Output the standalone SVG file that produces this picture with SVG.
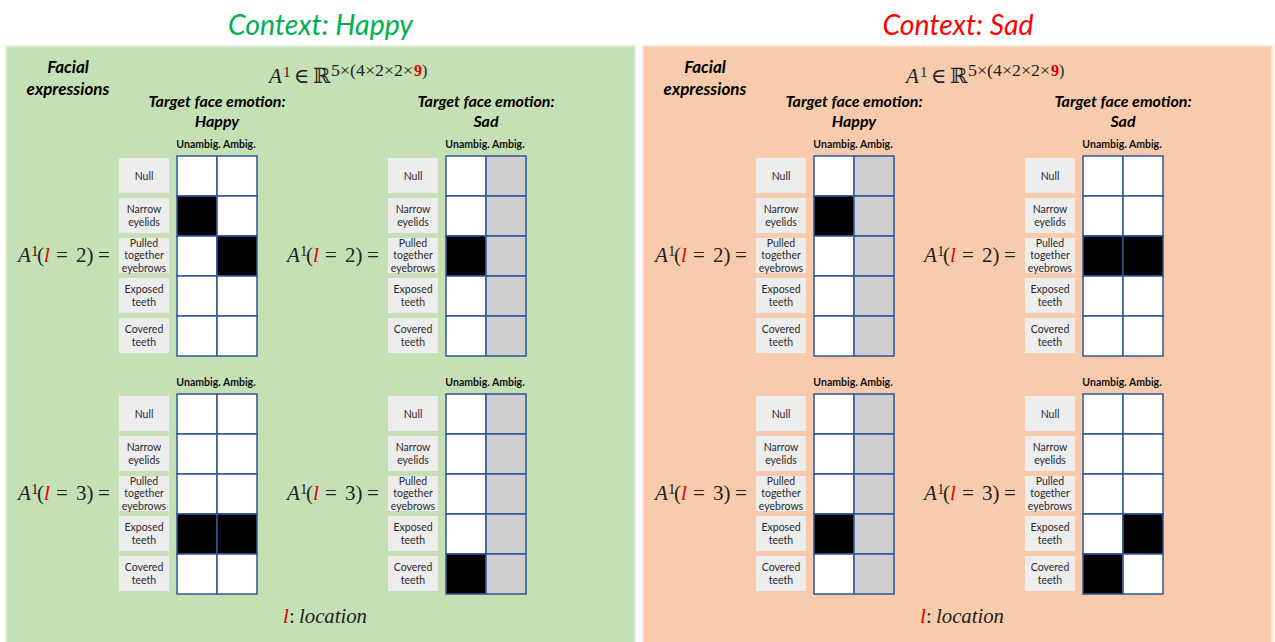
<svg xmlns="http://www.w3.org/2000/svg" xmlns:xlink="http://www.w3.org/1999/xlink" width="1275" height="642" viewBox="0 0 1275 642">
<defs>
<style>
.pg{fill:#C5E0B4;stroke:#E2EFDA;stroke-width:1.5}
.pp{fill:#F8CBAD;stroke:#FCE4D6;stroke-width:1.5}
.title{font-family:Lato,"Liberation Sans",sans-serif;font-style:italic;font-size:29px;text-anchor:middle}
.hd{font-family:Lato,"Liberation Sans",sans-serif;font-style:italic;font-weight:bold;font-size:16px;text-anchor:middle;fill:#000}
.fe{font-size:17px}
.col{font-family:Lato,"Liberation Sans",sans-serif;font-weight:bold;font-size:10.5px;text-anchor:middle;fill:#111}
.lb{fill:#EDEDED}
.lt{font-family:Lato,"Liberation Sans",sans-serif;font-size:10.5px;text-anchor:middle;fill:#2b2b2b}
.c rect{stroke:#2F5597;stroke-width:1.5}
.w{fill:#fff}.g{fill:#D0CECE}.k{fill:#000}
.m{font-family:"Liberation Serif","DejaVu Serif",serif;font-size:21px;fill:#222}
.s{font-size:16px}
.i{font-style:italic}
.red{fill:#E00000}
</style>
<g id="labels">
<rect class="lb" x="-58" y="2" width="50" height="35"/>
<rect class="lb" x="-58" y="42" width="50" height="35"/>
<rect class="lb" x="-58" y="82" width="50" height="35"/>
<rect class="lb" x="-58" y="122" width="50" height="35"/>
<rect class="lb" x="-58" y="162" width="50" height="35"/>
<text class="lt" x="-33" y="23.5">Null</text>
<text class="lt" x="-33" y="56.5">Narrow</text>
<text class="lt" x="-33" y="69.5">eyelids</text>
<text class="lt" x="-33" y="90.5">Pulled</text>
<text class="lt" x="-33" y="103">together</text>
<text class="lt" x="-33" y="115.5">eyebrows</text>
<text class="lt" x="-33" y="136.5">Exposed</text>
<text class="lt" x="-33" y="149.5">teeth</text>
<text class="lt" x="-33" y="176.5">Covered</text>
<text class="lt" x="-33" y="189.5">teeth</text>
<text class="col" x="39" y="-8">Unambig. Ambig.</text>
</g>
</defs>

<!-- Context: Happy -->
<g id="panel-happy">
<text class="title" x="320.5" y="35" fill="#00B050" textLength="185" lengthAdjust="spacingAndGlyphs">Context: Happy</text>
<rect class="pg" x="6" y="46" width="629" height="600"/>
<text class="hd fe" x="68" y="73">Facial</text>
<text class="hd fe" x="68" y="95">expressions</text>
<text class="m"><tspan class="i" x="269" y="83">A</tspan><tspan x="283" y="77" font-size="15">1</tspan><tspan x="294" y="83">∈</tspan><tspan x="313" y="83">ℝ</tspan></text>
<text class="m s" x="331" y="76" textLength="82" lengthAdjust="spacingAndGlyphs">5×(4×2×2×</text>
<text class="m s red" x="414" y="76" font-weight="bold">9</text>
<text class="m s" x="422" y="76">)</text>
<text class="hd" x="217" y="107">Target face emotion:</text>
<text class="hd" x="217" y="127">Happy</text>
<text class="hd" x="486" y="107">Target face emotion:</text>
<text class="hd" x="486" y="127">Sad</text>

<g id="happy-happy-l2" transform="translate(177,156)">
<text class="m"><tspan class="i" x="-159" y="106">A</tspan><tspan x="-146" y="100" font-size="15">1</tspan><tspan x="-140" y="106">(</tspan><tspan class="i red" x="-133" y="106">l</tspan><tspan x="-121" y="106">=</tspan><tspan x="-101" y="106">2)</tspan><tspan x="-79" y="106">=</tspan></text>
<use xlink:href="#labels"/>
<g class="c">
<rect class="w" x="0" y="0" width="40" height="40"/><rect class="w" x="40" y="0" width="40" height="40"/>
<rect class="k" x="0" y="40" width="40" height="40"/><rect class="w" x="40" y="40" width="40" height="40"/>
<rect class="w" x="0" y="80" width="40" height="40"/><rect class="k" x="40" y="80" width="40" height="40"/>
<rect class="w" x="0" y="120" width="40" height="40"/><rect class="w" x="40" y="120" width="40" height="40"/>
<rect class="w" x="0" y="160" width="40" height="40"/><rect class="w" x="40" y="160" width="40" height="40"/>
</g>
</g>

<g id="happy-sad-l2" transform="translate(446,156)">
<text class="m"><tspan class="i" x="-159" y="106">A</tspan><tspan x="-146" y="100" font-size="15">1</tspan><tspan x="-140" y="106">(</tspan><tspan class="i red" x="-133" y="106">l</tspan><tspan x="-121" y="106">=</tspan><tspan x="-101" y="106">2)</tspan><tspan x="-79" y="106">=</tspan></text>
<use xlink:href="#labels"/>
<g class="c">
<rect class="w" x="0" y="0" width="40" height="40"/><rect class="g" x="40" y="0" width="40" height="40"/>
<rect class="w" x="0" y="40" width="40" height="40"/><rect class="g" x="40" y="40" width="40" height="40"/>
<rect class="k" x="0" y="80" width="40" height="40"/><rect class="g" x="40" y="80" width="40" height="40"/>
<rect class="w" x="0" y="120" width="40" height="40"/><rect class="g" x="40" y="120" width="40" height="40"/>
<rect class="w" x="0" y="160" width="40" height="40"/><rect class="g" x="40" y="160" width="40" height="40"/>
</g>
</g>

<g id="happy-happy-l3" transform="translate(177,394)">
<text class="m"><tspan class="i" x="-159" y="106">A</tspan><tspan x="-146" y="100" font-size="15">1</tspan><tspan x="-140" y="106">(</tspan><tspan class="i red" x="-133" y="106">l</tspan><tspan x="-121" y="106">=</tspan><tspan x="-101" y="106">3)</tspan><tspan x="-79" y="106">=</tspan></text>
<use xlink:href="#labels"/>
<g class="c">
<rect class="w" x="0" y="0" width="40" height="40"/><rect class="w" x="40" y="0" width="40" height="40"/>
<rect class="w" x="0" y="40" width="40" height="40"/><rect class="w" x="40" y="40" width="40" height="40"/>
<rect class="w" x="0" y="80" width="40" height="40"/><rect class="w" x="40" y="80" width="40" height="40"/>
<rect class="k" x="0" y="120" width="40" height="40"/><rect class="k" x="40" y="120" width="40" height="40"/>
<rect class="w" x="0" y="160" width="40" height="40"/><rect class="w" x="40" y="160" width="40" height="40"/>
</g>
</g>

<g id="happy-sad-l3" transform="translate(446,394)">
<text class="m"><tspan class="i" x="-159" y="106">A</tspan><tspan x="-146" y="100" font-size="15">1</tspan><tspan x="-140" y="106">(</tspan><tspan class="i red" x="-133" y="106">l</tspan><tspan x="-121" y="106">=</tspan><tspan x="-101" y="106">3)</tspan><tspan x="-79" y="106">=</tspan></text>
<use xlink:href="#labels"/>
<g class="c">
<rect class="w" x="0" y="0" width="40" height="40"/><rect class="g" x="40" y="0" width="40" height="40"/>
<rect class="w" x="0" y="40" width="40" height="40"/><rect class="g" x="40" y="40" width="40" height="40"/>
<rect class="w" x="0" y="80" width="40" height="40"/><rect class="g" x="40" y="80" width="40" height="40"/>
<rect class="w" x="0" y="120" width="40" height="40"/><rect class="g" x="40" y="120" width="40" height="40"/>
<rect class="k" x="0" y="160" width="40" height="40"/><rect class="g" x="40" y="160" width="40" height="40"/>
</g>
</g>

<text class="m" font-size="19"><tspan class="i red" x="283" y="623">l</tspan><tspan x="289" y="623">:</tspan></text>
<text class="m i" x="299" y="623" font-size="19" textLength="68" lengthAdjust="spacingAndGlyphs">location</text>
</g>

<!-- Context: Sad -->
<g id="panel-sad">
<text class="title" x="958" y="35" fill="#FF0000" textLength="151" lengthAdjust="spacingAndGlyphs">Context: Sad</text>
<rect class="pp" x="643" y="46" width="629" height="600"/>
<text class="hd fe" x="705" y="73">Facial</text>
<text class="hd fe" x="705" y="95">expressions</text>
<text class="m"><tspan class="i" x="906" y="83">A</tspan><tspan x="920" y="77" font-size="15">1</tspan><tspan x="931" y="83">∈</tspan><tspan x="950" y="83">ℝ</tspan></text>
<text class="m s" x="968" y="76" textLength="82" lengthAdjust="spacingAndGlyphs">5×(4×2×2×</text>
<text class="m s red" x="1051" y="76" font-weight="bold">9</text>
<text class="m s" x="1059" y="76">)</text>
<text class="hd" x="854" y="107">Target face emotion:</text>
<text class="hd" x="854" y="127">Happy</text>
<text class="hd" x="1123" y="107">Target face emotion:</text>
<text class="hd" x="1123" y="127">Sad</text>

<g id="sad-happy-l2" transform="translate(814,156)">
<text class="m"><tspan class="i" x="-159" y="106">A</tspan><tspan x="-146" y="100" font-size="15">1</tspan><tspan x="-140" y="106">(</tspan><tspan class="i red" x="-133" y="106">l</tspan><tspan x="-121" y="106">=</tspan><tspan x="-101" y="106">2)</tspan><tspan x="-79" y="106">=</tspan></text>
<use xlink:href="#labels"/>
<g class="c">
<rect class="w" x="0" y="0" width="40" height="40"/><rect class="g" x="40" y="0" width="40" height="40"/>
<rect class="k" x="0" y="40" width="40" height="40"/><rect class="g" x="40" y="40" width="40" height="40"/>
<rect class="w" x="0" y="80" width="40" height="40"/><rect class="g" x="40" y="80" width="40" height="40"/>
<rect class="w" x="0" y="120" width="40" height="40"/><rect class="g" x="40" y="120" width="40" height="40"/>
<rect class="w" x="0" y="160" width="40" height="40"/><rect class="g" x="40" y="160" width="40" height="40"/>
</g>
</g>

<g id="sad-sad-l2" transform="translate(1083,156)">
<text class="m"><tspan class="i" x="-159" y="106">A</tspan><tspan x="-146" y="100" font-size="15">1</tspan><tspan x="-140" y="106">(</tspan><tspan class="i red" x="-133" y="106">l</tspan><tspan x="-121" y="106">=</tspan><tspan x="-101" y="106">2)</tspan><tspan x="-79" y="106">=</tspan></text>
<use xlink:href="#labels"/>
<g class="c">
<rect class="w" x="0" y="0" width="40" height="40"/><rect class="w" x="40" y="0" width="40" height="40"/>
<rect class="w" x="0" y="40" width="40" height="40"/><rect class="w" x="40" y="40" width="40" height="40"/>
<rect class="k" x="0" y="80" width="40" height="40"/><rect class="k" x="40" y="80" width="40" height="40"/>
<rect class="w" x="0" y="120" width="40" height="40"/><rect class="w" x="40" y="120" width="40" height="40"/>
<rect class="w" x="0" y="160" width="40" height="40"/><rect class="w" x="40" y="160" width="40" height="40"/>
</g>
</g>

<g id="sad-happy-l3" transform="translate(814,394)">
<text class="m"><tspan class="i" x="-159" y="106">A</tspan><tspan x="-146" y="100" font-size="15">1</tspan><tspan x="-140" y="106">(</tspan><tspan class="i red" x="-133" y="106">l</tspan><tspan x="-121" y="106">=</tspan><tspan x="-101" y="106">3)</tspan><tspan x="-79" y="106">=</tspan></text>
<use xlink:href="#labels"/>
<g class="c">
<rect class="w" x="0" y="0" width="40" height="40"/><rect class="g" x="40" y="0" width="40" height="40"/>
<rect class="w" x="0" y="40" width="40" height="40"/><rect class="g" x="40" y="40" width="40" height="40"/>
<rect class="w" x="0" y="80" width="40" height="40"/><rect class="g" x="40" y="80" width="40" height="40"/>
<rect class="k" x="0" y="120" width="40" height="40"/><rect class="g" x="40" y="120" width="40" height="40"/>
<rect class="w" x="0" y="160" width="40" height="40"/><rect class="g" x="40" y="160" width="40" height="40"/>
</g>
</g>

<g id="sad-sad-l3" transform="translate(1083,394)">
<text class="m"><tspan class="i" x="-159" y="106">A</tspan><tspan x="-146" y="100" font-size="15">1</tspan><tspan x="-140" y="106">(</tspan><tspan class="i red" x="-133" y="106">l</tspan><tspan x="-121" y="106">=</tspan><tspan x="-101" y="106">3)</tspan><tspan x="-79" y="106">=</tspan></text>
<use xlink:href="#labels"/>
<g class="c">
<rect class="w" x="0" y="0" width="40" height="40"/><rect class="w" x="40" y="0" width="40" height="40"/>
<rect class="w" x="0" y="40" width="40" height="40"/><rect class="w" x="40" y="40" width="40" height="40"/>
<rect class="w" x="0" y="80" width="40" height="40"/><rect class="w" x="40" y="80" width="40" height="40"/>
<rect class="w" x="0" y="120" width="40" height="40"/><rect class="k" x="40" y="120" width="40" height="40"/>
<rect class="k" x="0" y="160" width="40" height="40"/><rect class="w" x="40" y="160" width="40" height="40"/>
</g>
</g>

<text class="m" font-size="19"><tspan class="i red" x="920" y="623">l</tspan><tspan x="926" y="623">:</tspan></text>
<text class="m i" x="936" y="623" font-size="19" textLength="68" lengthAdjust="spacingAndGlyphs">location</text>
</g>
</svg>
